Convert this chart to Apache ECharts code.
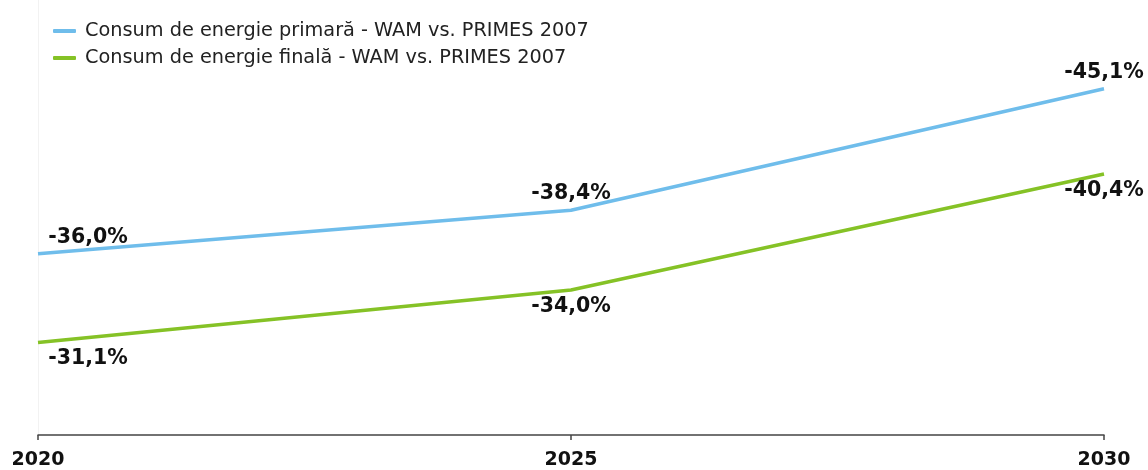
<!DOCTYPE html>
<html>
<head>
<meta charset="utf-8">
<script src="https://cdn.jsdelivr.net/npm/echarts@6/dist/echarts.min.js"></script>
<style>
html,body{margin:0;padding:0;background:#fff;}
#chart{width:1148px;height:470px;}
</style>
</head>
<body>
<div id="chart"></div>
<script>
const years = ['2020', '2025', '2030'];
const primaryName = 'Consum de energie primară - WAM vs. PRIMES 2007';
const finalName = 'Consum de energie finală - WAM vs. PRIMES 2007';
const primaryValues = [-36.0, -38.4, -45.1];
const finalValues = [-31.1, -34.0, -40.4];

const FONT = '"DejaVu Sans", Verdana, sans-serif';
const fmt = p => p.value.toFixed(1).replace('.', ',') + '%';

function withOffset(values) {
  return values.map((v, i) => i === 0 ? { value: v, label: { offset: [50, 0] } } : v);
}

const chart = echarts.init(document.getElementById('chart'), null, { renderer: 'canvas' });
chart.setOption({
  animation: false,
  backgroundColor: '#fff',
  grid: { left: 38, right: 44, top: 0, bottom: 32, containLabel: false },
  legend: {
    orient: 'vertical',
    left: 48,
    top: 15,
    itemWidth: 23,
    itemHeight: 4,
    itemGap: 5,
    icon: 'roundRect',
    textStyle: { fontFamily: FONT, fontSize: 19.3, color: '#222', lineHeight: 22, padding: [0, 0, 0, 4] },
    data: [primaryName, finalName]
  },
  xAxis: {
    type: 'category',
    data: years,
    boundaryGap: false,
    axisLine: { lineStyle: { color: '#444', width: 1.5 } },
    axisTick: { show: true, length: 5, lineStyle: { color: '#444', width: 1.5 } },
    axisLabel: { fontFamily: FONT, fontSize: 19, fontWeight: 'bold', color: '#111', margin: 16 },
    splitLine: { show: false }
  },
  yAxis: {
    type: 'value',
    min: -50,
    max: -26,
    inverse: true,
    axisLine: { show: true, lineStyle: { color: '#f2f2f2', width: 1 } },
    axisTick: { show: false },
    axisLabel: { show: false },
    splitLine: { show: false }
  },
  series: [
    {
      name: primaryName,
      type: 'line',
      data: withOffset(primaryValues),
      color: '#6fbdeb',
      lineStyle: { width: 3.5, color: '#6fbdeb' },
      symbol: 'circle',
      symbolSize: 0,
      showSymbol: true,
      label: { show: true, position: 'top', distance: 6, formatter: fmt, fontFamily: FONT, fontSize: 20.5, fontWeight: 'bold', color: '#111' }
    },
    {
      name: finalName,
      type: 'line',
      data: withOffset(finalValues),
      color: '#85c226',
      lineStyle: { width: 3.5, color: '#85c226' },
      symbol: 'circle',
      symbolSize: 0,
      showSymbol: true,
      label: { show: true, position: 'bottom', distance: 6, formatter: fmt, fontFamily: FONT, fontSize: 20.5, fontWeight: 'bold', color: '#111' }
    }
  ]
});
</script>
</body>
</html>
